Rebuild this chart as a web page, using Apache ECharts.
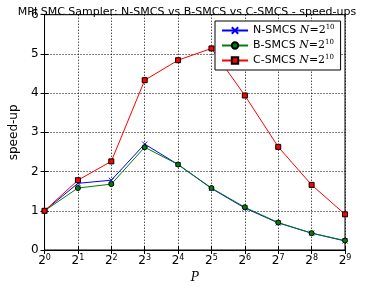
<!DOCTYPE html>
<html><head><meta charset="utf-8">
<script src="https://cdn.jsdelivr.net/npm/echarts@6/dist/echarts.min.js"></script>
<style>html,body{margin:0;padding:0;background:#fff}#c{width:374px;height:289px}</style>
</head><body><div id="c"></div>
<script>
const exponents = [0,1,2,3,4,5,6,7,8,9];
const nSmcs = [1.00, 1.70, 1.78, 2.70, 2.18, 1.57, 1.07, 0.69, 0.43, 0.23];
const bSmcs = [1.00, 1.58, 1.68, 2.62, 2.18, 1.58, 1.09, 0.70, 0.43, 0.24];
const cSmcs = [1.00, 1.78, 2.26, 4.33, 4.84, 5.14, 3.94, 2.63, 1.66, 0.91];
const yTicks = [0,1,2,3,4,5,6];
const seriesNames = ['N-SMCS', 'B-SMCS', 'C-SMCS'];

const F = 'DejaVu Sans';
const chart = echarts.init(document.getElementById('c'), null, {renderer:'canvas'});
const pts = arr => exponents.map((e,i)=>[e, arr[i]]);
const xPath = 'path://M0,0L10,10M10,0L0,10';
const mk = (name, data, color, symbol, size, border) => ({
  name, type:'line', data: pts(data), symbol, symbolSize:size,
  lineStyle:{color, width:1}, itemStyle:{color, borderColor: border, borderWidth: 1},
  emphasis:{disabled:true}, animation:false
});
const s1 = mk(seriesNames[0], nSmcs, '#0000ff', xPath, 5, '#0000ff');
const s2 = mk(seriesNames[1], bSmcs, '#008000', 'circle', 5, '#000');
const s3 = mk(seriesNames[2], cSmcs, '#ff0000', 'rect', 5, '#000');
chart.setOption({
  animation:false,
  title:{text:'MPI SMC Sampler: N-SMCS vs B-SMCS vs C-SMCS - speed-ups', left:'center', top:2,
    textStyle:{fontFamily:F, fontSize:11, fontWeight:'normal', color:'#000'}},
  grid:{left:36, right:29, top:14.7, bottom:34.3, show:true, borderColor:'#000', borderWidth:1, backgroundColor:'transparent'},
  legend:{orient:'vertical', left:215, top:21, backgroundColor:'#fff', borderColor:'#000', borderWidth:1,
    borderRadius:0, padding:[3,6,3,6], itemGap:2, itemWidth:26, itemHeight:8,
    data:seriesNames,
    formatter: n => n + ' {i|N}{r|=2}{s|10}',
    textStyle:{fontFamily:F, fontSize:11, color:'#000', lineHeight:13,
      rich:{i:{fontFamily:'DejaVu Serif', fontStyle:'italic', fontSize:11, lineHeight:13},
            r:{fontFamily:'DejaVu Serif', fontSize:11, lineHeight:13},
            s:{fontFamily:'DejaVu Serif', fontSize:7, lineHeight:13, padding:[0,0,6,0]}}}},
  xAxis:[{type:'value', min:0, max:9, interval:1,
    name:'P', nameLocation:'middle', nameGap:22,
    nameTextStyle:{fontFamily:'DejaVu Serif', fontStyle:'italic', fontSize:12, color:'#000'},
    axisLine:{show:true, lineStyle:{color:'#000'}}, axisTick:{inside:true, length:4, lineStyle:{color:'#000'}},
    splitLine:{show:true, lineStyle:{color:'#000', type:[1,2], width:1}},
    axisLabel:{color:'#000', fontFamily:F, fontSize:12, margin:4,
      formatter: v => '2{s|' + v + '}',
      rich:{s:{fontSize:8, fontFamily:F, padding:[0,0,6,0]}}}},
    {type:'value', min:0, max:9, interval:1, position:'top', axisLine:{show:false}, axisLabel:{show:false},
     axisTick:{inside:true, length:4, lineStyle:{color:'#000'}}, splitLine:{show:false}}],
  yAxis:[{type:'value', min:yTicks[0], max:yTicks[yTicks.length-1], interval:1,
    name:'speed-up', nameLocation:'middle', nameGap:20, nameRotate:90,
    nameTextStyle:{fontFamily:F, fontSize:12, color:'#000'},
    axisLine:{show:true, lineStyle:{color:'#000'}}, axisTick:{inside:true, length:4, lineStyle:{color:'#000'}},
    splitLine:{show:true, lineStyle:{color:'#000', type:[1,2], width:1}},
    axisLabel:{color:'#000', fontFamily:F, fontSize:12, margin:6}},
    {type:'value', min:0, max:6, interval:1, position:'right', axisLine:{show:false}, axisLabel:{show:false},
     axisTick:{inside:true, length:4, lineStyle:{color:'#000'}}, splitLine:{show:false}}],
  series:[s1, s2, s3]
});
</script></body></html>
